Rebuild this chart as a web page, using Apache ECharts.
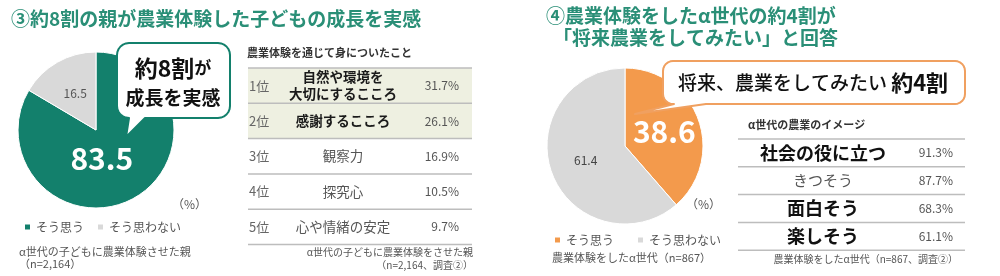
<!DOCTYPE html>
<html>
<head>
<meta charset="utf-8">
<script src="https://cdn.jsdelivr.net/npm/echarts@6/dist/echarts.min.js"></script>
<style>
  html, body { margin: 0; padding: 0; background: #fff; }
  #main { width: 1000px; height: 276px; }
</style>
</head>
<body>
<div id="main"></div>
<script>
// data
var answerNames = ['そう思う', 'そう思わない'];
var parentValues = [83.5, 16.5];
var childValues = [38.6, 61.4];

var skillRanks = ['1位', '2位', '3位', '4位', '5位'];
var skillNames = ['自然や環境を\n大切にするこころ', '感謝するこころ', '観察力', '探究心', '心や情緒の安定'];
var skillRates = [31.7, 26.1, 16.9, 10.5, 9.7];

var imageNames = ['社会の役に立つ', 'きつそう', '面白そう', '楽しそう'];
var imageRates = [91.3, 87.7, 68.3, 61.1];

var FONT = 'Noto Sans CJK JP';
var TEAL = '#13806c';
var ORANGE = '#f39a4c';
var GREY = '#d9d9d9';
var TITLE = '#2a8f77';

var chart = echarts.init(document.getElementById('main'));

function txt(x, y, text, size, color, opts) {
  opts = opts || {};
  return {
    type: 'text', x: x, y: y, z: 110, silent: true,
    style: {
      text: text, fill: color, fontSize: size, fontFamily: FONT,
      fontWeight: opts.weight || 'normal',
      align: opts.align || 'left', textAlign: opts.align || 'left',
      verticalAlign: 'middle', textVerticalAlign: 'middle',
      lineHeight: opts.lineHeight, rich: opts.rich
    }
  };
}

// rounded speech bubble with a tail on the bottom edge
function bubble(x, y, w, h, r, tail, stroke) {
  var pts = [];
  function arc(cx, cy, a0, a1) {
    for (var k = 0; k <= 6; k++) {
      var a = (a0 + (a1 - a0) * k / 6) * Math.PI / 180;
      pts.push([cx + r * Math.cos(a), cy + r * Math.sin(a)]);
    }
  }
  arc(x + w - r, y + r, -90, 0);
  arc(x + w - r, y + h - r, 0, 90);
  pts.push([tail[1], y + h], [tail[2], tail[3]], [tail[0], y + h]);
  arc(x + r, y + h - r, 90, 180);
  arc(x + r, y + r, 180, 270);
  return {
    type: 'polygon', z: 100, silent: true,
    shape: { points: pts },
    style: { fill: '#fff', stroke: stroke, lineWidth: 2, lineJoin: 'round' }
  };
}

var graphics = [];

// titles
graphics.push(txt(11, 19, '③約8割の親が農業体験した子どもの成長を実感', 19, TITLE, { weight: 'bold' }));
graphics.push(txt(546, 16, '④農業体験をしたα世代の約4割が', 19, TITLE, { weight: 'bold' }));
graphics.push(txt(553, 38, '「将来農業をしてみたい」と回答', 19, TITLE, { weight: 'bold' }));

// left pie notes
graphics.push(txt(172, 204, '（%）', 12, '#555'));
graphics.push(txt(19, 252, 'α世代の子どもに農業体験させた親', 11, '#555'));
graphics.push(txt(19, 264, '（n=2,164）', 11, '#555'));

// right pie notes
graphics.push(txt(686, 204, '（%）', 12, '#555'));
graphics.push(txt(552, 258, '農業体験をしたα世代（n=867）', 11, '#555'));

// speech bubbles
graphics.push(bubble(117, 43, 113, 75, 12, [129, 145, 126, 137], TEAL));
graphics.push(txt(173, 68, '{a|約8割}{b|が}', 23, '#111', {
  align: 'center',
  rich: {
    a: { fontSize: 23, fontWeight: 'bold', fontFamily: FONT, fill: '#111' },
    b: { fontSize: 17, fontWeight: 'bold', fontFamily: FONT, fill: '#111' }
  }
}));
graphics.push(txt(173, 98, '成長を実感', 19, '#111', { align: 'center', weight: 'bold' }));

graphics.push(bubble(663, 61, 302, 43, 10, [674, 706, 635, 114], '#f0a060'));
graphics.push(txt(813, 83, '{a|将来、農業をしてみたい} {b|約4割}', 19, '#111', {
  align: 'center',
  rich: {
    a: { fontSize: 19, fontWeight: 500, fontFamily: FONT, fill: '#111' },
    b: { fontSize: 22, fontWeight: 'bold', fontFamily: FONT, fill: '#111' }
  }
}));

// left ranking table
var lt = { x0: 248, x1: 472, top: 68, rowH: 35.3 };
graphics.push(txt(247, 53, '農業体験を通じて身についたこと', 11, '#333', { weight: 'bold' }));
graphics.push({
  type: 'rect', z: 50, silent: true,
  shape: { x: lt.x0, y: lt.top, width: lt.x1 - lt.x0, height: lt.rowH * 2 },
  style: { fill: '#eef0e1' }
});
for (var i = 0; i < skillRanks.length; i++) {
  var cy = lt.top + lt.rowH * (i + 0.5);
  var strong = i < 2;
  graphics.push(txt(249, cy, skillRanks[i], 13, '#666'));
  graphics.push(txt(343, cy, skillNames[i], 13.5, strong ? '#1a1a1a' : '#555',
    { align: 'center', weight: strong ? 'bold' : 'normal', lineHeight: 17 }));
  graphics.push(txt(459, cy, skillRates[i].toFixed(1) + '%', 12, '#555', { align: 'right' }));
}
for (var j = 0; j <= skillRanks.length; j++) {
  var ly = lt.top + lt.rowH * j;
  graphics.push({
    type: 'line', z: 60, silent: true,
    shape: { x1: lt.x0, y1: ly, x2: lt.x1, y2: ly },
    style: { stroke: '#bdbdbd', lineWidth: 1.5 }
  });
}
graphics.push(txt(473, 252, 'α世代の子どもに農業体験をさせた親', 10, '#555', { align: 'right' }));
graphics.push(txt(473, 265, '（n=2,164、調査②）', 10, '#555', { align: 'right' }));

// right image table
var rt = { x0: 738, x1: 965, top: 139, rowH: 27.8 };
graphics.push(txt(748, 125, 'α世代の農業のイメージ', 11, '#333', { weight: 'bold' }));
for (var m = 0; m < imageNames.length; m++) {
  var ry = rt.top + rt.rowH * (m + 0.5);
  var bold = m !== 1;
  graphics.push(txt(823, ry, imageNames[m], bold ? 18 : 15, bold ? '#111' : '#555',
    { align: 'center', weight: bold ? 'bold' : 'normal' }));
  graphics.push(txt(953, ry, imageRates[m].toFixed(1) + '%', 12, '#555', { align: 'right' }));
}
for (var n = 0; n <= imageNames.length; n++) {
  var ny = rt.top + rt.rowH * n;
  graphics.push({
    type: 'line', z: 60, silent: true,
    shape: { x1: rt.x0, y1: ny, x2: rt.x1, y2: ny },
    style: { stroke: '#bdbdbd', lineWidth: 1.5 }
  });
}
graphics.push(txt(958, 259, '農業体験をしたα世代（n=867、調査②）', 10, '#555', { align: 'right' }));

function pieSeries(values, colors, center, bigLabel, smallLabel) {
  return {
    type: 'pie',
    center: center,
    radius: [0, 78],
    startAngle: 90,
    clockwise: true,
    silent: true,
    animation: false,
    itemStyle: { borderColor: '#fff', borderWidth: 1 },
    labelLine: { show: false },
    label: { position: 'inside', formatter: '{c}', fontFamily: FONT },
    data: answerNames.map(function (name, k) {
      return {
        name: name,
        value: values[k],
        itemStyle: { color: colors[k] },
        label: k === 0 ? bigLabel : smallLabel
      };
    })
  };
}

var option = {
  textStyle: { fontFamily: FONT },
  legend: [
    {
      left: 18, top: 216, icon: 'rect', itemWidth: 7, itemHeight: 7, itemGap: 12,
      textStyle: { fontSize: 12, color: '#555', fontFamily: FONT },
      selectedMode: false,
      data: [
        { name: answerNames[0], itemStyle: { color: TEAL } },
        { name: answerNames[1], itemStyle: { color: GREY } }
      ]
    },
    {
      left: 548, top: 229, icon: 'rect', itemWidth: 7, itemHeight: 7, itemGap: 22,
      textStyle: { fontSize: 12, color: '#555', fontFamily: FONT },
      selectedMode: false,
      data: [
        { name: answerNames[0], itemStyle: { color: ORANGE } },
        { name: answerNames[1], itemStyle: { color: GREY } }
      ]
    }
  ],
  series: [
    pieSeries(parentValues, [TEAL, GREY], [96, 130],
      {
        formatter: '{v|{c}}\n{g|}',
        padding: [0, 30, 0, 0],
        rich: {
          v: { color: '#fff', fontSize: 30, fontWeight: 'bold', fontFamily: FONT, lineHeight: 34 },
          g: { height: 16, lineHeight: 16 }
        }
      },
      { color: '#555', fontSize: 12 }),
    pieSeries(childValues, [ORANGE, GREY], [625, 146],
      { color: '#fff', fontSize: 30, fontWeight: 'bold' },
      { color: '#444', fontSize: 12 })
  ],
  graphic: { elements: graphics }
};

chart.setOption(option);
</script>
</body>
</html>
